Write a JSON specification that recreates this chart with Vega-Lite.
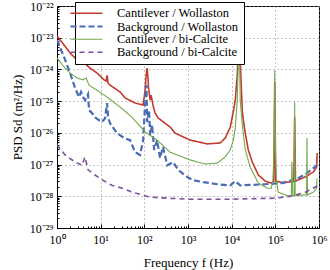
{
  "$schema": "https://vega.github.io/schema/vega-lite/v6.json",
  "width": 262,
  "height": 222,
  "autosize": {"type": "none"},
  "padding": {"left": 57, "top": 6, "right": 11, "bottom": 42},
  "background": "white",
  "config": {
    "font": "Liberation Serif",
    "view": {"stroke": "black", "strokeWidth": 1},
    "legend": {
      "orient": "none",
      "legendX": 18,
      "legendY": -4,
      "symbolType": "M-3.2,0H3.2",
      "symbolSize": 100,
      "labelFontSize": 12.5,
      "labelFont": "Liberation Serif",
      "labelColor": "black",
      "labelOffset": 24,
      "strokeColor": "black",
      "fillColor": "white",
      "padding": 5,
      "rowPadding": 0,
      "labelLimit": 300,
      "cornerRadius": 0
    }
  },
  "data": {
    "values": [
      {"s": "Cantilever / Wollaston", "f": 1, "p": 1.13e-23},
      {"s": "Cantilever / Wollaston", "f": 1.45, "p": 5.9e-24},
      {"s": "Cantilever / Wollaston", "f": 1.99, "p": 3.3e-24},
      {"s": "Cantilever / Wollaston", "f": 2.88, "p": 2.0e-24},
      {"s": "Cantilever / Wollaston", "f": 4.16, "p": 1.6e-24},
      {"s": "Cantilever / Wollaston", "f": 5.71, "p": 1.1e-24},
      {"s": "Cantilever / Wollaston", "f": 8.27, "p": 7.7e-25},
      {"s": "Cantilever / Wollaston", "f": 12.0, "p": 4.7e-25},
      {"s": "Cantilever / Wollaston", "f": 13.3, "p": 4.3e-25},
      {"s": "Cantilever / Wollaston", "f": 14.0, "p": 6.5e-25},
      {"s": "Cantilever / Wollaston", "f": 14.8, "p": 3.7e-25},
      {"s": "Cantilever / Wollaston", "f": 16.4, "p": 3.2e-25},
      {"s": "Cantilever / Wollaston", "f": 27.9, "p": 1.94e-25},
      {"s": "Cantilever / Wollaston", "f": 36.3, "p": 1.26e-25},
      {"s": "Cantilever / Wollaston", "f": 61.5, "p": 8.7e-26},
      {"s": "Cantilever / Wollaston", "f": 93.8, "p": 7.6e-26},
      {"s": "Cantilever / Wollaston", "f": 104, "p": 2.2e-25},
      {"s": "Cantilever / Wollaston", "f": 110, "p": 6.6e-25},
      {"s": "Cantilever / Wollaston", "f": 116, "p": 1.1e-24},
      {"s": "Cantilever / Wollaston", "f": 122, "p": 4.7e-25},
      {"s": "Cantilever / Wollaston", "f": 125, "p": 2.6e-25},
      {"s": "Cantilever / Wollaston", "f": 136, "p": 1.07e-25},
      {"s": "Cantilever / Wollaston", "f": 143, "p": 1.55e-25},
      {"s": "Cantilever / Wollaston", "f": 159, "p": 7.1e-26},
      {"s": "Cantilever / Wollaston", "f": 177, "p": 4.2e-26},
      {"s": "Cantilever / Wollaston", "f": 207, "p": 2.95e-26},
      {"s": "Cantilever / Wollaston", "f": 300, "p": 2.0e-26},
      {"s": "Cantilever / Wollaston", "f": 391, "p": 1.52e-26},
      {"s": "Cantilever / Wollaston", "f": 508, "p": 9.8e-27},
      {"s": "Cantilever / Wollaston", "f": 1122, "p": 5.9e-27},
      {"s": "Cantilever / Wollaston", "f": 2755, "p": 4.5e-27},
      {"s": "Cantilever / Wollaston", "f": 5460, "p": 4.8e-27},
      {"s": "Cantilever / Wollaston", "f": 7130, "p": 6.9e-27},
      {"s": "Cantilever / Wollaston", "f": 9290, "p": 1.5e-26},
      {"s": "Cantilever / Wollaston", "f": 10900, "p": 4.6e-26},
      {"s": "Cantilever / Wollaston", "f": 12100, "p": 1.07e-25},
      {"s": "Cantilever / Wollaston", "f": 13400, "p": 6.6e-25},
      {"s": "Cantilever / Wollaston", "f": 14900, "p": 2.3e-23},
      {"s": "Cantilever / Wollaston", "f": 15700, "p": 2.0e-24},
      {"s": "Cantilever / Wollaston", "f": 16600, "p": 3.0e-25},
      {"s": "Cantilever / Wollaston", "f": 17500, "p": 5.0e-26},
      {"s": "Cantilever / Wollaston", "f": 18500, "p": 2.5e-26},
      {"s": "Cantilever / Wollaston", "f": 20500, "p": 9.8e-27},
      {"s": "Cantilever / Wollaston", "f": 24000, "p": 2.9e-27},
      {"s": "Cantilever / Wollaston", "f": 29700, "p": 1.2e-27},
      {"s": "Cantilever / Wollaston", "f": 40700, "p": 4.7e-28},
      {"s": "Cantilever / Wollaston", "f": 59000, "p": 3.0e-28},
      {"s": "Cantilever / Wollaston", "f": 81000, "p": 2.6e-28},
      {"s": "Cantilever / Wollaston", "f": 92000, "p": 3.0e-28},
      {"s": "Cantilever / Wollaston", "f": 97000, "p": 4.0e-25},
      {"s": "Cantilever / Wollaston", "f": 102000, "p": 3.0e-28},
      {"s": "Cantilever / Wollaston", "f": 150000, "p": 2.7e-28},
      {"s": "Cantilever / Wollaston", "f": 265000, "p": 2.9e-28},
      {"s": "Cantilever / Wollaston", "f": 277000, "p": 3.2e-26},
      {"s": "Cantilever / Wollaston", "f": 290000, "p": 3.0e-28},
      {"s": "Cantilever / Wollaston", "f": 487000, "p": 4.1e-28},
      {"s": "Cantilever / Wollaston", "f": 743000, "p": 5.8e-28},
      {"s": "Cantilever / Wollaston", "f": 880000, "p": 8.3e-28},
      {"s": "Cantilever / Wollaston", "f": 910000, "p": 2.3e-27},

      {"s": "Background / Wollaston", "f": 1, "p": 8.5e-24},
      {"s": "Background / Wollaston", "f": 1.45, "p": 2.45e-24},
      {"s": "Background / Wollaston", "f": 1.99, "p": 7.7e-25},
      {"s": "Background / Wollaston", "f": 2.59, "p": 2.6e-25},
      {"s": "Background / Wollaston", "f": 3.19, "p": 1.34e-25},
      {"s": "Background / Wollaston", "f": 3.55, "p": 1.94e-25},
      {"s": "Background / Wollaston", "f": 3.94, "p": 1.34e-25},
      {"s": "Background / Wollaston", "f": 4.38, "p": 1.07e-25},
      {"s": "Background / Wollaston", "f": 5.14, "p": 1.66e-25},
      {"s": "Background / Wollaston", "f": 5.42, "p": 5.2e-26},
      {"s": "Background / Wollaston", "f": 6.35, "p": 4.2e-26},
      {"s": "Background / Wollaston", "f": 7.43, "p": 3.1e-26},
      {"s": "Background / Wollaston", "f": 9.18, "p": 2.5e-26},
      {"s": "Background / Wollaston", "f": 10.8, "p": 2.2e-26},
      {"s": "Background / Wollaston", "f": 12.6, "p": 2.9e-26},
      {"s": "Background / Wollaston", "f": 14.0, "p": 8.7e-26},
      {"s": "Background / Wollaston", "f": 14.8, "p": 3.1e-26},
      {"s": "Background / Wollaston", "f": 16.4, "p": 2.0e-26},
      {"s": "Background / Wollaston", "f": 23.7, "p": 9.8e-27},
      {"s": "Background / Wollaston", "f": 34.4, "p": 6.9e-27},
      {"s": "Background / Wollaston", "f": 47.2, "p": 5.9e-27},
      {"s": "Background / Wollaston", "f": 61.5, "p": 2.45e-27},
      {"s": "Background / Wollaston", "f": 80.0, "p": 2.0e-27},
      {"s": "Background / Wollaston", "f": 93.8, "p": 5.9e-27},
      {"s": "Background / Wollaston", "f": 104, "p": 7.6e-26},
      {"s": "Background / Wollaston", "f": 112, "p": 3.2e-25},
      {"s": "Background / Wollaston", "f": 116, "p": 2.2e-26},
      {"s": "Background / Wollaston", "f": 128, "p": 5.2e-26},
      {"s": "Background / Wollaston", "f": 136, "p": 8.5e-27},
      {"s": "Background / Wollaston", "f": 150, "p": 1.8e-26},
      {"s": "Background / Wollaston", "f": 168, "p": 2.9e-27},
      {"s": "Background / Wollaston", "f": 196, "p": 5.9e-27},
      {"s": "Background / Wollaston", "f": 229, "p": 1.6e-27},
      {"s": "Background / Wollaston", "f": 268, "p": 3.6e-27},
      {"s": "Background / Wollaston", "f": 334, "p": 9.5e-28},
      {"s": "Background / Wollaston", "f": 458, "p": 1.2e-27},
      {"s": "Background / Wollaston", "f": 596, "p": 6.8e-28},
      {"s": "Background / Wollaston", "f": 955, "p": 4.1e-28},
      {"s": "Background / Wollaston", "f": 1310, "p": 3.2e-28},
      {"s": "Background / Wollaston", "f": 2230, "p": 2.8e-28},
      {"s": "Background / Wollaston", "f": 4690, "p": 2.4e-28},
      {"s": "Background / Wollaston", "f": 9290, "p": 2.2e-28},
      {"s": "Background / Wollaston", "f": 12100, "p": 3.0e-28},
      {"s": "Background / Wollaston", "f": 15700, "p": 2.2e-28},
      {"s": "Background / Wollaston", "f": 59000, "p": 2.4e-28},
      {"s": "Background / Wollaston", "f": 144000, "p": 2.6e-28},
      {"s": "Background / Wollaston", "f": 336000, "p": 3.7e-28},
      {"s": "Background / Wollaston", "f": 570000, "p": 5.8e-28},
      {"s": "Background / Wollaston", "f": 900000, "p": 9.5e-28},

      {"s": "Cantilever / bi-Calcite", "f": 1, "p": 2.3e-24},
      {"s": "Cantilever / bi-Calcite", "f": 1.45, "p": 1.2e-24},
      {"s": "Cantilever / bi-Calcite", "f": 1.99, "p": 7.7e-25},
      {"s": "Cantilever / bi-Calcite", "f": 2.88, "p": 5.4e-25},
      {"s": "Cantilever / bi-Calcite", "f": 3.94, "p": 4.7e-25},
      {"s": "Cantilever / bi-Calcite", "f": 4.63, "p": 5.4e-25},
      {"s": "Cantilever / bi-Calcite", "f": 5.42, "p": 3.2e-25},
      {"s": "Cantilever / bi-Calcite", "f": 8.27, "p": 2.2e-25},
      {"s": "Cantilever / bi-Calcite", "f": 14.0, "p": 1.34e-25},
      {"s": "Cantilever / bi-Calcite", "f": 27.9, "p": 6.5e-26},
      {"s": "Cantilever / bi-Calcite", "f": 52.4, "p": 3.1e-26},
      {"s": "Cantilever / bi-Calcite", "f": 104, "p": 1.07e-26},
      {"s": "Cantilever / bi-Calcite", "f": 196, "p": 5.9e-27},
      {"s": "Cantilever / bi-Calcite", "f": 391, "p": 2.45e-27},
      {"s": "Cantilever / bi-Calcite", "f": 1122, "p": 1.4e-27},
      {"s": "Cantilever / bi-Calcite", "f": 2470, "p": 1.04e-27},
      {"s": "Cantilever / bi-Calcite", "f": 4690, "p": 1.12e-27},
      {"s": "Cantilever / bi-Calcite", "f": 7130, "p": 1.74e-27},
      {"s": "Cantilever / bi-Calcite", "f": 9290, "p": 2.9e-27},
      {"s": "Cantilever / bi-Calcite", "f": 10900, "p": 5.9e-27},
      {"s": "Cantilever / bi-Calcite", "f": 12100, "p": 1.4e-26},
      {"s": "Cantilever / bi-Calcite", "f": 13400, "p": 1.07e-25},
      {"s": "Cantilever / bi-Calcite", "f": 14900, "p": 1.5e-23},
      {"s": "Cantilever / bi-Calcite", "f": 15700, "p": 1.07e-25},
      {"s": "Cantilever / bi-Calcite", "f": 17500, "p": 1.8e-26},
      {"s": "Cantilever / bi-Calcite", "f": 20500, "p": 2.9e-27},
      {"s": "Cantilever / bi-Calcite", "f": 26600, "p": 8.3e-28},
      {"s": "Cantilever / bi-Calcite", "f": 40700, "p": 2.6e-28},
      {"s": "Cantilever / bi-Calcite", "f": 65000, "p": 1.8e-28},
      {"s": "Cantilever / bi-Calcite", "f": 81000, "p": 1.8e-28},
      {"s": "Cantilever / bi-Calcite", "f": 88000, "p": 3.2e-28},
      {"s": "Cantilever / bi-Calcite", "f": 93500, "p": 2.9e-27},
      {"s": "Cantilever / bi-Calcite", "f": 97000, "p": 9.5e-25},
      {"s": "Cantilever / bi-Calcite", "f": 100500, "p": 2.9e-27},
      {"s": "Cantilever / bi-Calcite", "f": 106000, "p": 3.2e-28},
      {"s": "Cantilever / bi-Calcite", "f": 116000, "p": 1.35e-28},
      {"s": "Cantilever / bi-Calcite", "f": 198000, "p": 1.02e-28},
      {"s": "Cantilever / bi-Calcite", "f": 232000, "p": 1.05e-28},
      {"s": "Cantilever / bi-Calcite", "f": 240000, "p": 1.2e-27},
      {"s": "Cantilever / bi-Calcite", "f": 250000, "p": 1.05e-28},
      {"s": "Cantilever / bi-Calcite", "f": 270000, "p": 1.05e-28},
      {"s": "Cantilever / bi-Calcite", "f": 277000, "p": 9.5e-26},
      {"s": "Cantilever / bi-Calcite", "f": 285000, "p": 1.05e-28},
      {"s": "Cantilever / bi-Calcite", "f": 487000, "p": 1.1e-28},
      {"s": "Cantilever / bi-Calcite", "f": 520000, "p": 1.1e-28},
      {"s": "Cantilever / bi-Calcite", "f": 530000, "p": 6.9e-27},
      {"s": "Cantilever / bi-Calcite", "f": 545000, "p": 1.1e-28},
      {"s": "Cantilever / bi-Calcite", "f": 743000, "p": 1.35e-28},
      {"s": "Cantilever / bi-Calcite", "f": 880000, "p": 1.8e-28},
      {"s": "Cantilever / bi-Calcite", "f": 900000, "p": 3.7e-28},

      {"s": "Background / bi-Calcite", "f": 1, "p": 4.2e-27},
      {"s": "Background / bi-Calcite", "f": 1.53, "p": 2.0e-27},
      {"s": "Background / bi-Calcite", "f": 2.59, "p": 1.2e-27},
      {"s": "Background / bi-Calcite", "f": 3.74, "p": 9.5e-28},
      {"s": "Background / bi-Calcite", "f": 4.38, "p": 1.74e-27},
      {"s": "Background / bi-Calcite", "f": 5.14, "p": 6.8e-28},
      {"s": "Background / bi-Calcite", "f": 7.43, "p": 4.7e-28},
      {"s": "Background / bi-Calcite", "f": 11.3, "p": 3.2e-28},
      {"s": "Background / bi-Calcite", "f": 18.3, "p": 2.2e-28},
      {"s": "Background / bi-Calcite", "f": 31.0, "p": 1.8e-28},
      {"s": "Background / bi-Calcite", "f": 52.4, "p": 1.35e-28},
      {"s": "Background / bi-Calcite", "f": 89.3, "p": 1.1e-28},
      {"s": "Background / bi-Calcite", "f": 136, "p": 9.4e-29},
      {"s": "Background / bi-Calcite", "f": 334, "p": 8.7e-29},
      {"s": "Background / bi-Calcite", "f": 1122, "p": 8.1e-29},
      {"s": "Background / bi-Calcite", "f": 9290, "p": 8.1e-29},
      {"s": "Background / bi-Calcite", "f": 100000, "p": 8.7e-29},
      {"s": "Background / bi-Calcite", "f": 245000, "p": 1.02e-28},
      {"s": "Background / bi-Calcite", "f": 487000, "p": 1.35e-28},
      {"s": "Background / bi-Calcite", "f": 970000, "p": 2.2e-28}
    ]
  },
  "mark": {"type": "line", "clip": true},
  "encoding": {
    "x": {
      "field": "f",
      "type": "quantitative",
      "scale": {"type": "log", "domain": [1, 1000000], "nice": false},
      "axis": {
        "values": [1,2,3,4,5,6,7,8,9,10,20,30,40,50,60,70,80,90,100,200,300,400,500,600,700,800,900,1000,2000,3000,4000,5000,6000,7000,8000,9000,10000,20000,30000,40000,50000,60000,70000,80000,90000,100000,200000,300000,400000,500000,600000,700000,800000,900000,1000000],
        "title": "Frequency f (Hz)",
        "titleFont": "Liberation Serif",
        "titleFontSize": 13,
        "titleFontWeight": "normal",
        "titleColor": "black",
        "titlePadding": 9,
        "labelExpr": "abs(log(datum.value)/LN10 - round(log(datum.value)/LN10)) < 0.001 ? '10' + ['⁰','¹','²','³','⁴','⁵','⁶'][round(log(datum.value)/LN10)] : ''",
        "labelFont": "Liberation Serif",
        "labelFontSize": 12,
        "labelColor": "black",
        "labelOverlap": false,
        "labelBound": false,
        "labelFlush": false,
        "labelPadding": 10,
        "tickSize": {"condition": {"test": "abs(log(datum.value)/LN10 - round(log(datum.value)/LN10)) < 0.001", "value": -4}, "value": -2},
        "tickColor": "black",
        "domainColor": "black",
        "grid": true,
        "gridDash": [1, 3],
        "gridColor": "#888888",
        "gridOpacity": {"condition": {"test": "abs(log(datum.value)/LN10 - round(log(datum.value)/LN10)) < 0.001", "value": 1}, "value": 0}
      }
    },
    "y": {
      "field": "p",
      "type": "quantitative",
      "scale": {"type": "log", "domain": [1e-29, 1e-22], "nice": false},
      "axis": {
        "values": [1e-29,2e-29,3e-29,4e-29,5e-29,6e-29,7e-29,8e-29,9e-29,1e-28,2e-28,3e-28,4e-28,5e-28,6e-28,7e-28,8e-28,9e-28,1e-27,2e-27,3e-27,4e-27,5e-27,6e-27,7e-27,8e-27,9e-27,1e-26,2e-26,3e-26,4e-26,5e-26,6e-26,7e-26,8e-26,9e-26,1e-25,2e-25,3e-25,4e-25,5e-25,6e-25,7e-25,8e-25,9e-25,1e-24,2e-24,3e-24,4e-24,5e-24,6e-24,7e-24,8e-24,9e-24,1e-23,2e-23,3e-23,4e-23,5e-23,6e-23,7e-23,8e-23,9e-23,1e-22],
        "title": "PSD Sd (m²/Hz)",
        "titleFont": "Liberation Serif",
        "titleFontSize": 13,
        "titleFontWeight": "normal",
        "titleColor": "black",
        "titlePadding": 5,
        "labelExpr": "abs(log(datum.value)/LN10 - round(log(datum.value)/LN10)) < 0.001 ? '10⁻²' + ['⁰','¹','²','³','⁴','⁵','⁶','⁷','⁸','⁹'][-round(log(datum.value)/LN10) - 20] : ''",
        "labelFont": "Liberation Serif",
        "labelFontSize": 12,
        "labelColor": "black",
        "labelOverlap": false,
        "labelBound": false,
        "labelFlush": false,
        "labelPadding": 8,
        "tickSize": {"condition": {"test": "abs(log(datum.value)/LN10 - round(log(datum.value)/LN10)) < 0.001", "value": -4}, "value": -2},
        "tickColor": "black",
        "domainColor": "black",
        "grid": true,
        "gridDash": [1, 3],
        "gridColor": "#888888",
        "gridOpacity": {"condition": {"test": "abs(log(datum.value)/LN10 - round(log(datum.value)/LN10)) < 0.001", "value": 1}, "value": 0}
      }
    },
    "color": {
      "field": "s",
      "type": "nominal",
      "scale": {
        "domain": ["Cantilever / Wollaston", "Background / Wollaston", "Cantilever / bi-Calcite", "Background / bi-Calcite"],
        "range": ["#c23b2f", "#4a6cb3", "#72a94c", "#7b4f9e"]
      },
      "legend": {"title": null, "orient": "none", "legendX": 18, "legendY": -4}
    },
    "strokeDash": {
      "field": "s",
      "type": "nominal",
      "scale": {
        "type": "ordinal",
        "domain": ["Cantilever / Wollaston", "Background / Wollaston", "Cantilever / bi-Calcite", "Background / bi-Calcite"],
        "range": [[1, 0], [6, 3], [1, 0], [5, 4]]
      },
      "legend": {"title": null}
    },
    "strokeWidth": {
      "field": "s",
      "type": "nominal",
      "scale": {
        "type": "ordinal",
        "domain": ["Cantilever / Wollaston", "Background / Wollaston", "Cantilever / bi-Calcite", "Background / bi-Calcite"],
        "range": [1.6, 2.2, 1.1, 1.6]
      },
      "legend": {"title": null}
    }
  }
}
